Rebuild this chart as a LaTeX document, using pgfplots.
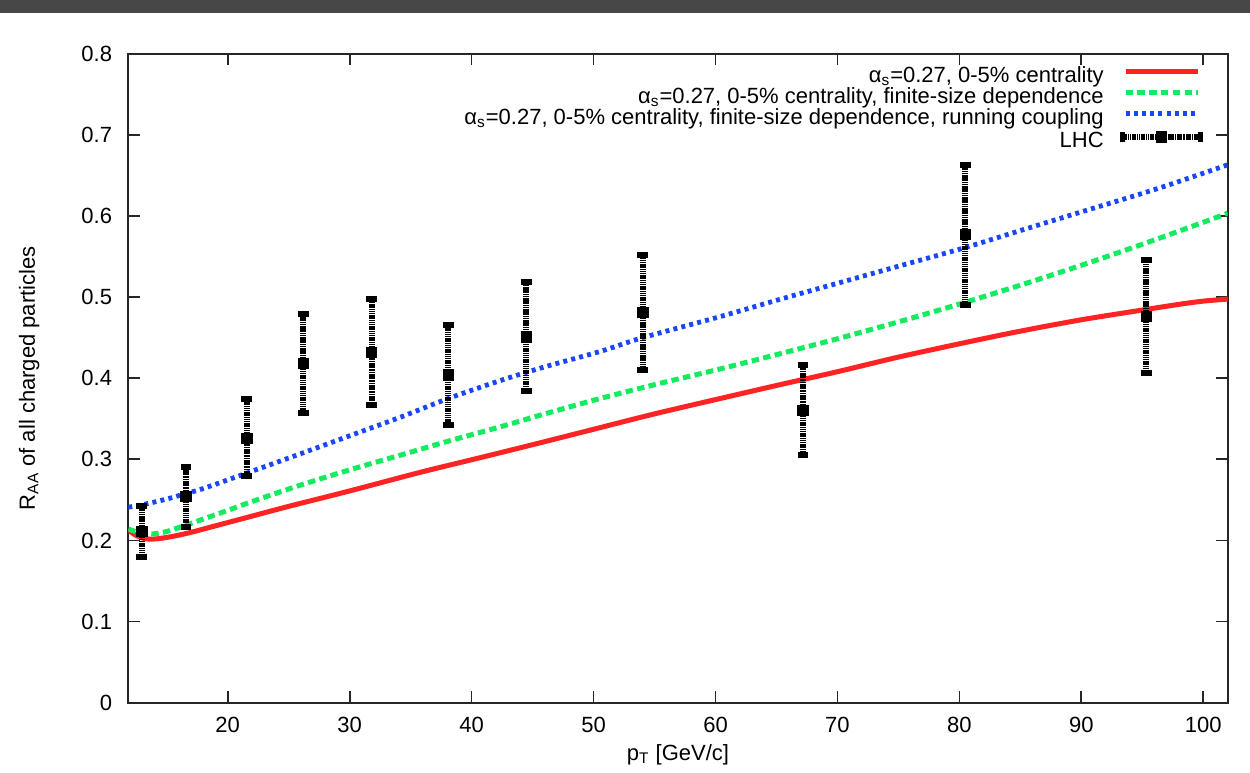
\documentclass[border=0pt]{standalone}
\usepackage{fontspec}
\setmainfont{Liberation Sans}
\usepackage{pgfplots}
\pgfplotsset{compat=1.18}
\definecolor{cred}{RGB}{255,35,35}
\definecolor{cgreen}{RGB}{20,235,95}
\definecolor{cblue}{RGB}{25,70,250}
\newcommand{\ff}{\fontsize{11bp}{13bp}\selectfont}
\begin{document}
\begin{tikzpicture}
\begin{axis}[
  scale only axis,
  width=549.7bp, height=324.5bp,
  xmin=11.85, xmax=102, ymin=0, ymax=0.8,
  xtick={20,30,40,50,60,70,80,90,100},
  ytick={0,0.1,0.2,0.3,0.4,0.5,0.6,0.7,0.8},
  yticklabels={0,0.1,0.2,0.3,0.4,0.5,0.6,0.7,0.8},
  tick align=inside,
  major tick length=5.7bp,
  axis line style={line width=0.9bp, black!85},
  every tick/.style={line width=0.9bp, black!85},
  /pgf/number format/assume math mode=true,
  tick label style={font=\ff, text=black},
  xticklabel style={anchor=center, yshift=-10.9bp},
  yticklabel style={anchor=east, xshift=-4.6bp},
  xlabel={p\textsubscript{T} [GeV/c]},
  ylabel={R\textsubscript{AA} of all charged particles},
  every axis x label/.style={at={(rel axis cs:0.5,0)}, yshift=-26bp, anchor=center, font=\ff},
  every axis y label/.style={at={(rel axis cs:0,0.5)}, xshift=-49.5bp, rotate=90, anchor=center, font=\ff},
  legend plot pos=right,
  legend cell align=right,
  legend style={at={(rel axis cs:1,1)}, anchor=north east, xshift=-11.8bp, yshift=-6.2bp,
    draw=none, fill=none, inner sep=0pt, row sep=0pt, column sep=8bp, font=\ff,
    nodes={inner sep=0pt, text height=7.9bp, text depth=2.6bp}},
  legend image code/.code={\draw[#1] (0bp,2.6bp) -- (36bp,2.6bp);},
  clip=true,
]
\addplot[cred, line width=2.5bp, smooth, tension=0.5] table {
11.85 0.213
12.5 0.206
13.3 0.202
14.2 0.202
15.5 0.205
17 0.210
18.5 0.216
20 0.222
22 0.230
25 0.242
30 0.261
35.8 0.284
40.7 0.302
45 0.318
50 0.337
55 0.356
60.4 0.375
65 0.391
70 0.408
75 0.426
80.5 0.444
85 0.458
90 0.472
95 0.484
98 0.491
100 0.495
102 0.4975
};
\addlegendentry{α\textsubscript{s}=0.27, 0-5\% centrality}
\addplot[cgreen, line width=2.5bp, dash pattern=on 3.7bp off 2.2bp, smooth, tension=0.5] table {
11.85 0.214
12.7 0.210
13.8 0.208
15 0.211
16.6 0.219
17.74 0.225
20 0.237
22 0.248
25.93 0.268
30 0.287
34.13 0.305
38 0.322
42.34 0.340
46 0.356
50.55 0.375
55 0.392
60 0.410
63.7 0.424
67.05 0.437
70 0.4486
75 0.4694
80.25 0.4925
85 0.5147
90 0.5392
95 0.5651
100 0.5922
102 0.6034
};
\addlegendentry{α\textsubscript{s}=0.27, 0-5\% centrality, finite-size dependence}
\addplot[cblue, line width=2.4bp, dash pattern=on 2bp off 2.1bp, smooth, tension=0.5] table {
11.85 0.241
13 0.244
15 0.251
16.6 0.258
18 0.264
21.56 0.283
26 0.307
30 0.329
34 0.351
38.1 0.375
42.34 0.397
46 0.414
50.55 0.433
54.04 0.450
60.4 0.476
65 0.496
70 0.517
75 0.538
80.25 0.560
85 0.582
90 0.605
96.1 0.633
102 0.663
};
\addlegendentry{α\textsubscript{s}=0.27, 0-5\% centrality, finite-size dependence, running coupling}
\addplot[black, only marks, mark=square*, mark size=2.6bp,
  legend image code/.code={
    \draw[black, line width=3bp, dash pattern=on 2.2bp off 0.45bp on 0.5bp off 0.45bp on 0.5bp off 0.45bp] (-1.5bp,2.6bp) -- (37.5bp,2.6bp);
    \draw[black, line width=2.4bp] (-1.5bp,0bp) -- (-1.5bp,5.2bp) (37.5bp,0bp) -- (37.5bp,5.2bp);
    \fill[black] (15.4bp,0bp) rectangle (20.6bp,5.2bp);},
  error bars/.cd, y dir=both, y explicit,
  error bar style={line width=3bp, dash pattern=on 2.2bp off 0.45bp on 0.5bp off 0.45bp on 0.5bp off 0.45bp on 0.5bp off 0.45bp},
  error mark options={rotate=90, black, line width=3bp, mark size=2.7bp, solid}
] table[x=x, y=y, y error plus=ep, y error minus=em] {
x y ep em
12.95 0.211 0.031 0.031
16.58 0.254 0.037 0.037
21.56 0.326 0.048 0.047
26.2 0.418 0.061 0.061
31.8 0.432 0.065 0.065
38.1 0.404 0.062 0.062
44.47 0.451 0.067 0.067
54.04 0.481 0.071 0.071
67.17 0.360 0.056 0.055
80.48 0.577 0.086 0.087
95.31 0.476 0.070 0.070
};
\addlegendentry{LHC}
\coordinate (sw) at (rel axis cs:0,0);
\coordinate (ne) at (rel axis cs:1,1);
\end{axis}
\pgfresetboundingbox
\path[use as bounding box] ([xshift=-64.15bp,yshift=-35.15bp]sw) rectangle ([xshift=11.15bp,yshift=26.85bp]ne);
\fill[black!72] ([xshift=-64.15bp,yshift=344.85bp]sw) rectangle ([xshift=11.15bp,yshift=26.85bp]ne);
\end{tikzpicture}
\end{document}
